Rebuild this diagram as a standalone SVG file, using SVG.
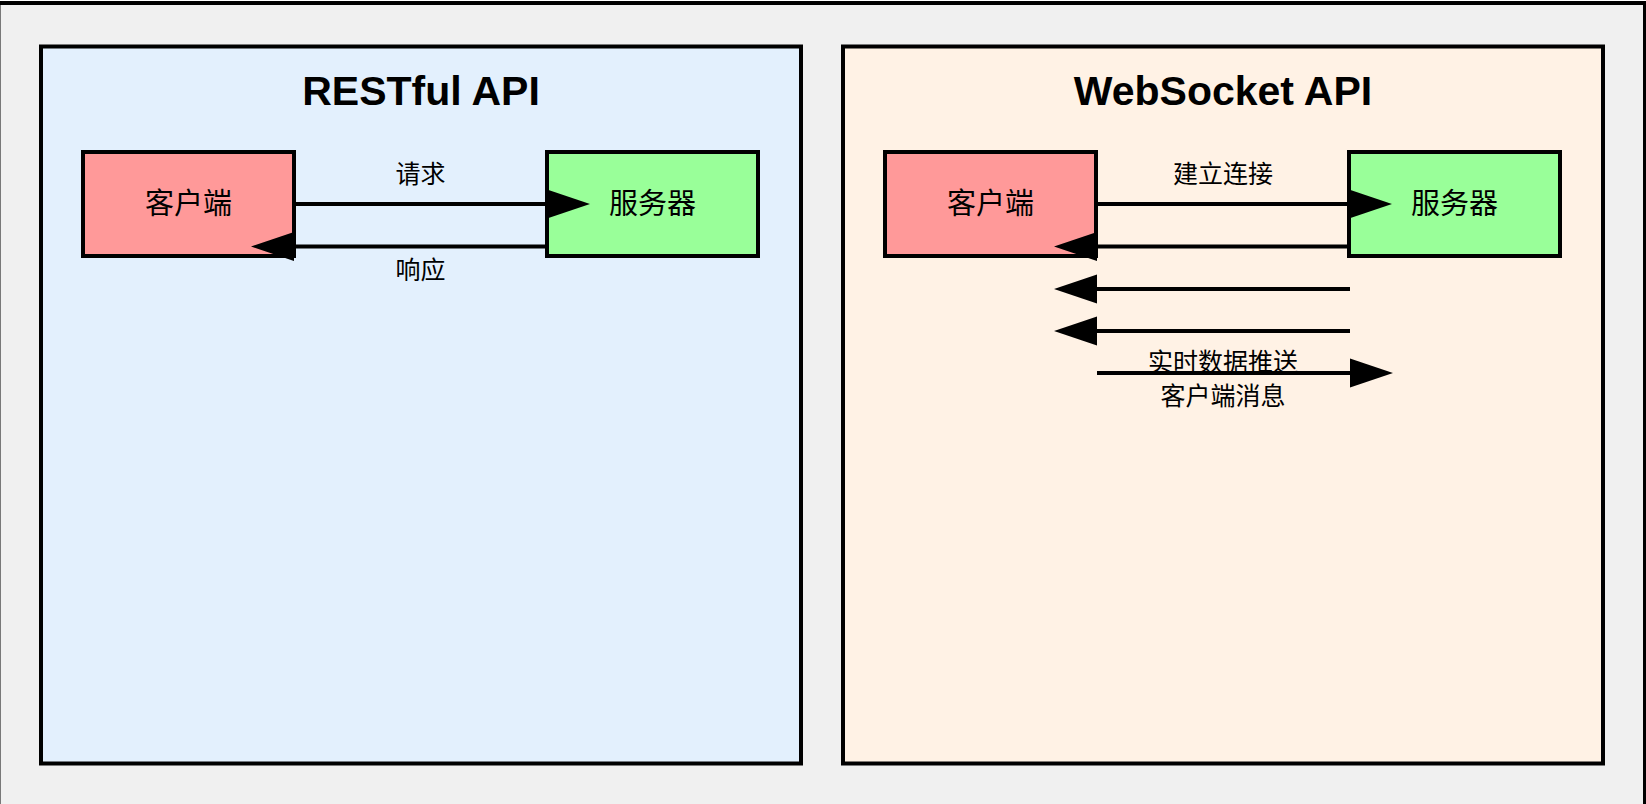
<svg xmlns="http://www.w3.org/2000/svg" width="1646" height="804" viewBox="0 0 1646 804">
  <style>
    .panel { stroke: #000; stroke-width: 4; }
    .node { stroke: #000; stroke-width: 4; }
    .client { fill: #ff9999; }
    .server { fill: #99ff99; }
    .title { font-family: "Liberation Sans", Arial, sans-serif; font-weight: bold; font-size: 41px; fill: #000; text-anchor: middle; }
    .ntext { font-family: "Liberation Sans", "Noto Sans CJK SC", sans-serif; font-size: 29px; fill: #000; text-anchor: middle; dominant-baseline: central; }
    .ltext { font-family: "Liberation Sans", "Noto Sans CJK SC", sans-serif; font-size: 25px; fill: #000; text-anchor: middle; dominant-baseline: central; }
    .conn { stroke: #000; stroke-width: 4; fill: none; marker-end: url(#arrow); }
  </style>
  <defs>
    <marker id="arrow" markerUnits="userSpaceOnUse" markerWidth="44" markerHeight="30" refX="0" refY="14.5" orient="auto" overflow="visible">
      <path d="M0,0 L43,14.5 L0,29 Z" fill="#000"/>
    </marker>
  </defs>

  <rect x="-1.5" y="3" width="1646.5" height="1000" fill="#f0f0f0" stroke="#000" stroke-width="4"/>

  <g id="panel-rest">
    <rect class="panel" x="41" y="46.5" width="760" height="717" fill="#e3f0fd"/>
    <text class="title" x="421" y="105">RESTful API</text>
  </g>
  <g id="panel-ws">
    <rect class="panel" x="843" y="46.5" width="760" height="717" fill="#fff2e5"/>
    <text class="title" x="1223" y="105">WebSocket API</text>
  </g>

  <g id="rest-client">
    <rect class="node client" x="83" y="152" width="211" height="104"/>
    <text class="ntext" x="188.5" y="204">客户端</text>
  </g>
  <g id="rest-server">
    <rect class="node server" x="547" y="152" width="211" height="104"/>
    <text class="ntext" x="652.5" y="204">服务器</text>
  </g>
  <g id="ws-client">
    <rect class="node client" x="885" y="152" width="211" height="104"/>
    <text class="ntext" x="990.5" y="204">客户端</text>
  </g>
  <g id="ws-server">
    <rect class="node server" x="1349" y="152" width="211" height="104"/>
    <text class="ntext" x="1454.5" y="204">服务器</text>
  </g>

  <g id="connectors">
    <line class="conn" x1="294" y1="204" x2="547" y2="204"/>
    <line class="conn" x1="547" y1="246.5" x2="294" y2="246.5"/>
    <line class="conn" x1="1096" y1="204" x2="1349" y2="204"/>
    <line class="conn" x1="1349" y1="246.5" x2="1097" y2="246.5"/>
    <line class="conn" x1="1350" y1="289" x2="1097" y2="289"/>
    <line class="conn" x1="1350" y1="331" x2="1097" y2="331"/>
    <line class="conn" x1="1097" y1="373" x2="1350" y2="373"/>
  </g>

  <g id="labels">
    <text class="ltext" x="420.5" y="174">请求</text>
    <text class="ltext" x="420.5" y="269.5">响应</text>
    <text class="ltext" x="1223" y="174">建立连接</text>
    <text class="ltext" x="1223" y="362">实时数据推送</text>
    <text class="ltext" x="1223" y="396">客户端消息</text>
  </g>
</svg>
